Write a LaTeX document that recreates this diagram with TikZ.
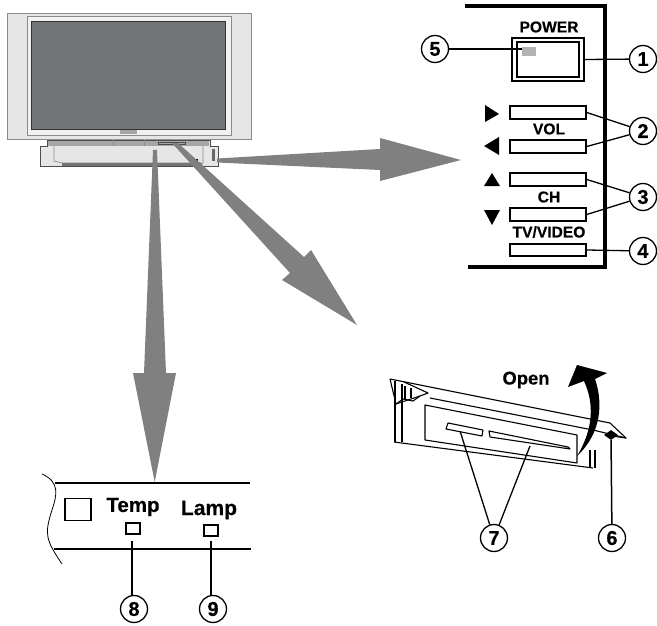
\documentclass[tikz,border=0pt]{standalone}
\usepackage{fontspec}
\usetikzlibrary{shapes.geometric}
\setmainfont[BoldFeatures={FakeBold=0.4}]{Liberation Sans}
\definecolor{arrowgray}{HTML}{808080}
\definecolor{screengray}{HTML}{737476}
\definecolor{cabinet}{HTML}{E6E6E6}
\definecolor{bezel}{HTML}{F1F1F1}
\definecolor{tvline}{HTML}{8A8A8A}
\tikzset{
  callout/.style={circle,draw=black,line width=1.3pt,fill=white,minimum size=27pt,inner sep=0pt,font=\fontsize{20}{20}\selectfont\bfseries},
  btn/.style={rectangle,draw=black,line width=1.5pt,fill=white,minimum width=76pt,minimum height=13pt,inner sep=0pt},
  lab/.style={inner sep=0pt,font=\fontsize{15.6}{16}\selectfont\bfseries},
  leader/.style={draw=black,line width=1.3pt},
  bigarrow/.style={fill=arrowgray,draw=none},
  tri/.style={fill=black,draw=none},
  flap/.style={draw=black,line width=1.1pt,line join=round}
}
\begin{document}
\begin{tikzpicture}[x=1pt,y=-1pt]
\useasboundingbox (0,0) rectangle (657,626);
% TV
\draw[draw=tvline,line width=1pt,fill=cabinet] (7,14) rectangle (251,140);
\draw[draw=tvline,line width=.8pt,fill=bezel] (27,16) rectangle (231,135);
\draw[draw=black!80,line width=.8pt,fill=screengray] (31.5,21) rectangle (225,129);
\fill[black!35] (120,130.5) rectangle (137,134);
\draw[draw=black!70,line width=.8pt,fill=cabinet] (47,140) -- (47,146) -- (40,146) -- (40,166) -- (218,166) -- (218,146) -- (210,146) -- (210,140) -- cycle;
\fill[black!35] (48,141) rectangle (209,146);
\draw[tvline,line width=.7pt] (54,146) -- (54,161) -- (62,163) -- (203,163) -- (203,146);
\fill[black!55] (62,163) rectangle (202,166);
\draw[black!70,line width=1pt] (158,142.5) rectangle (185,144.5);
\draw[tvline,line width=.6pt] (113,140.5) -- (113,146) (144,140.5) -- (144,146);
\fill[black!60] (212,149) rectangle (215,161);
\fill[black] (196,159) rectangle (198,161);
% big arrows
\fill[bigarrow] (217,158.5) -- (380,149) -- (380,138) -- (461,160) -- (380,181) -- (380,170) -- (217,162.5) -- cycle;
\fill[bigarrow] (153,150) -- (157,150) -- (166,373) -- (176,373) -- (154.7,482) -- (133,373) -- (144,373) -- cycle;
\fill[bigarrow] (172,143) -- (178,143) -- (304,257) -- (311,250) -- (357,325) -- (282,280) -- (290,273) -- cycle;
% control panel
\draw[draw=black,line width=3.5pt] (465,6) -- (605,6) -- (605,267) -- (468,267);
\node[lab] (power) at (549,27) {POWER};
\node[lab] (vol) at (549,129) {VOL};
\node[lab] (ch) at (549,197) {CH};
\node[lab] (tvv) at (549,232) {TV/VIDEO};
\node[draw=black,line width=1.3pt,minimum width=72pt,minimum height=43pt,inner sep=0pt] (pwout) at (548,59.5) {};
\node[draw=black,line width=1.3pt,fill=white,minimum width=62pt,minimum height=35pt,inner sep=0pt] (pwin) at (548,59.5) {};
\node[fill=black!30,minimum width=14pt,minimum height=9pt,inner sep=0pt] (led) at (529,51.5) {};
\node[btn] (b2a) at (548,112.5) {};
\node[btn] (b2b) at (548,146.5) {};
\node[btn] (b3a) at (548,179.5) {};
\node[btn] (b3b) at (548,214.5) {};
\node[btn,minimum height=12pt] (b4) at (548,250) {};
\fill[tri] (485,105) -- (485,122) -- (499,114) -- cycle;
\fill[tri] (499,137) -- (499,155) -- (484,146) -- cycle;
\fill[tri] (484,186) -- (500,186) -- (492,173) -- cycle;
\fill[tri] (484,210) -- (500,210) -- (492,225) -- cycle;
\node[callout] (c1) at (643,59) {1};
\node[callout] (c2) at (643,131) {2};
\node[callout] (c3) at (643,197) {3};
\node[callout] (c4) at (643,251) {4};
\node[callout] (c5) at (435,49) {5};
\coordinate (l5) at (522,49);
\draw[leader] (pwout.east) -- (c1);
\draw[leader] (c5) -- (l5);
\draw[leader] (b2a.east) -- (c2);
\draw[leader] (b2b.east) -- (c2);
\draw[leader] (b3a.east) -- (c3);
\draw[leader] (b3b.east) -- (c3);
\draw[leader] (b4.east) -- (c4);
% flap
\draw[flap] (390,379) -- (610,423) -- (626,438) -- (612,436);
\draw[flap] (430,398) -- (593,430) -- (626,438);
\draw[flap] (394,442) -- (593,468);
\draw[flap] (425,440) -- (577,463) -- (577,435) -- (425,405) -- cycle;
\draw[flap] (395,381) -- (395,442) (402,384) -- (402,442);
\draw[flap] (390,379) -- (396,404) -- (420,396) -- (428,393) -- (415,387) -- (404,382);
\draw[flap] (396,404) -- (403,399) -- (413,401) -- (420,396);
\draw[flap] (405,386) -- (405,399) (411,388) -- (411,398);
\draw[flap] (590,450) -- (590,468) (595,450) -- (595,468);
\draw[flap] (448,423) -- (483,430) -- (482,436) -- (446,429) -- cycle;
\draw[flap] (489,431) -- (568,447) -- (570,449) -- (490,437) -- cycle;
\fill[black] (577,365) -- (607,373) -- (595,379) .. controls (603,402) and (602,433) .. (577,456) .. controls (594,428) and (594,403) .. (584,381) -- (568,387) -- cycle;
\node[fill=black,diamond,aspect=1.3,inner sep=0pt,minimum width=14pt,minimum height=10pt] (latch) at (611,435) {};
\node[lab,font=\fontsize{18.4}{19}\selectfont\bfseries] (open) at (526,380) {Open};
\node[callout] (c6) at (612,538) {6};
\node[callout] (c7) at (494,538) {7};
\coordinate (s1) at (460,431);
\coordinate (s2) at (530,446);
\draw[leader,line width=1.5pt] (latch) -- (c6);
\draw[leader] (c7) -- (s1);
\draw[leader] (c7) -- (s2);
% front strip
\draw[draw=black,line width=1.7pt] (55,483) -- (250,483);
\draw[draw=black,line width=1.7pt] (54,549) -- (251,549);
\draw[draw=black,line width=.8pt] (42,474) .. controls (60,482) and (57,495) .. (52,510) .. controls (44,535) and (46,540) .. (62,564);
\node[draw=black,line width=1.5pt,minimum width=26pt,minimum height=22pt,inner sep=0pt] (sq) at (78,509.5) {};
\node[lab,font=\fontsize{20.5}{21}\selectfont\bfseries] (temp) at (133,507) {Temp};
\node[lab,font=\fontsize{21}{21}\selectfont\bfseries] (lamp) at (209,510) {Lamp};
\node[draw=black,line width=1.4pt,minimum width=14pt,minimum height=11pt,inner sep=0pt] (led8) at (133,528.5) {};
\node[draw=black,line width=1.4pt,minimum width=14pt,minimum height=11pt,inner sep=0pt] (led9) at (211,530.5) {};
\node[callout] (c8) at (134,609) {8};
\node[callout] (c9) at (213,609) {9};
\coordinate (t8) at (132,541);
\coordinate (t9) at (211,541);
\draw[leader,line width=1.4pt] (t8) -- (t8 |- c8.north);
\draw[leader,line width=1.4pt] (t9) -- (t9 |- c9.north);
\end{tikzpicture}
\end{document}
